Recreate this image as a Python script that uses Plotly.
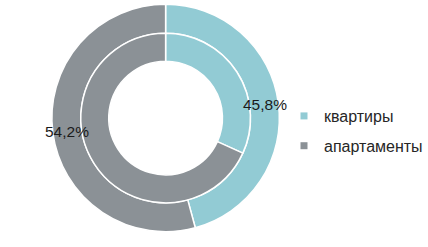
import math
import plotly.graph_objects as go

labels = ["квартиры", "апартаменты"]
outer_values = [45.8, 54.2]
inner_values = [31.8, 68.2]
outer_text = ["45,8%", "54,2%"]
colors = ["#92CBD4", "#8B9196"]

W, H = 428, 247
cx, cy = 166, 118  # px from top-left
R_out, R_in, R_hole = 114, 85, 57
R_lab = 100
FONT = "Liberation Sans, Arial, sans-serif"

def dom(r):
    return dict(x=[(cx - r) / W, (cx + r) / W],
                y=[(H - cy - r) / H, (H - cy + r) / H])

fig = go.Figure()
fig.add_trace(go.Pie(
    labels=labels, values=outer_values,
    textinfo="none",
    hole=R_in / R_out, sort=False, direction="clockwise", rotation=0,
    marker=dict(colors=colors, line=dict(color="white", width=1.5)),
    domain=dom(R_out), showlegend=False,
))
fig.add_trace(go.Pie(
    labels=labels, values=inner_values,
    textinfo="none",
    hole=R_hole / R_in, sort=False, direction="clockwise", rotation=0,
    marker=dict(colors=colors, line=dict(color="white", width=1.5)),
    domain=dom(R_in), showlegend=False,
))

# legend entries (square markers)
for i, (lab, col) in enumerate(zip(labels, colors)):
    fig.add_trace(go.Scatter(
        x=[None], y=[None], mode="markers", name=lab,
        marker=dict(symbol="square", size=7, color=col),
        legendgroup=f"g{i}", showlegend=True,
    ))

# labels at the middle of each outer slice
total = sum(outer_values)
acc = 0.0
for v, t in zip(outer_values, outer_text):
    mid = (acc + v / 2) / total * 2 * math.pi
    acc += v
    px = cx + R_lab * math.sin(mid)
    py = cy - R_lab * math.cos(mid)
    fig.add_annotation(x=px / W, y=(H - py) / H, xref="paper", yref="paper",
                       text=t, showarrow=False, xanchor="center", yanchor="middle",
                       font=dict(family=FONT, size=15.5, color="#1a1a1a"))

fig.update_layout(
    width=W, height=H, margin=dict(l=0, r=0, t=0, b=0),
    paper_bgcolor="white", plot_bgcolor="white",
    xaxis=dict(visible=False), yaxis=dict(visible=False),
    legend=dict(x=0.665, y=0.4696, xanchor="left", yanchor="middle",
                font=dict(family=FONT, size=16, color="#262626"),
                itemwidth=30, tracegroupgap=6),
)
fig.write_html("out.html")
